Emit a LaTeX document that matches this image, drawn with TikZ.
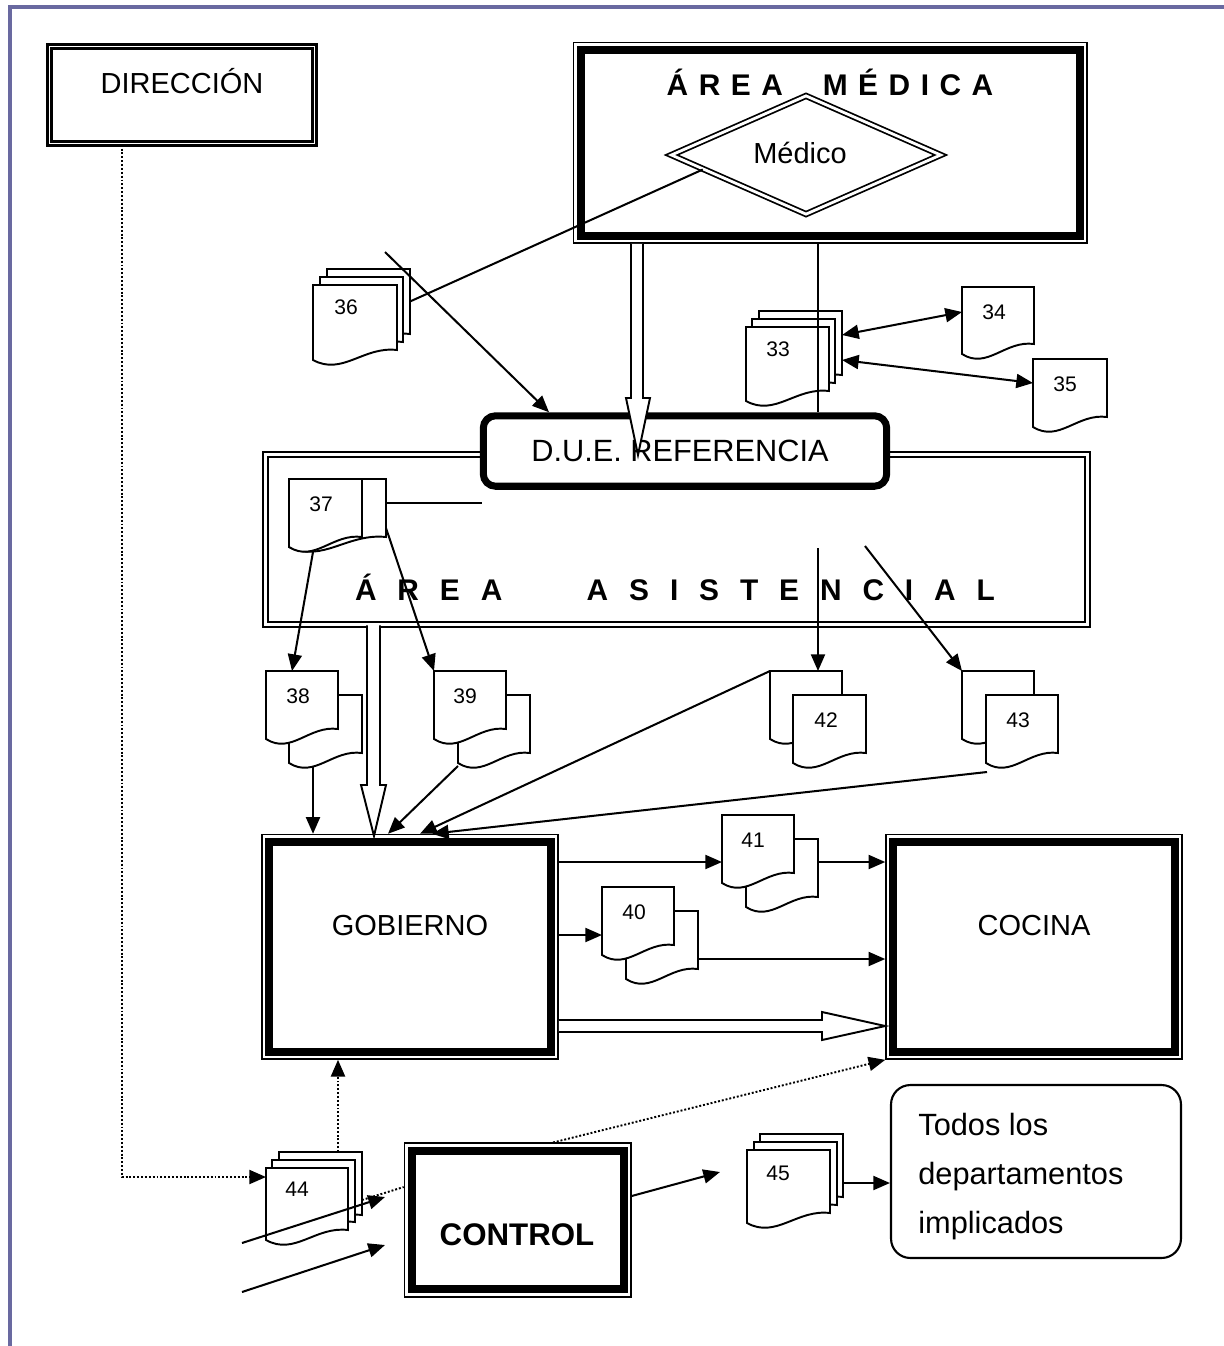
\documentclass[tikz,border=0pt]{standalone}
\usepackage{fontspec}
\setmainfont{Liberation Sans}
\usetikzlibrary{arrows.meta,shapes.geometric,calc,fit}
\definecolor{framecol}{RGB}{105,105,160}

% one document page with a wavy lower edge: name, x0, y0, x1, y1
\newcommand\docpage[5]{%
  \path (#2,#3) coordinate (#1-nw) (#4,#5) coordinate (#1-se);
  \node[fit=(#1-nw)(#1-se), inner sep=0pt, outer sep=0pt] (#1) {};
  \draw[docline] (#1.north west) -- (#1.north east) -- (#1.south east)
    .. controls ($(#1.south west)!0.6!(#1.south east)+(0,-4)$)
    and ($(#1.south west)!0.35!(#1.south east)+(0,26)$)
    .. ($(#1.south west)+(0,10)$) -- cycle;
}
% letter spacing for the area titles
\newcommand\gp{\hspace{6pt}}
\newcommand\gq{\hspace{11.9pt}}

\begin{document}
\begin{tikzpicture}[x=0.02cm, y=-0.02cm,
  conn/.style={line width=1.15pt},
  arr/.style={conn, -{Triangle[length=9.5pt,width=8pt]}},
  biarr/.style={conn, {Triangle[length=9.5pt,width=8pt]}-{Triangle[length=9.5pt,width=8pt]}},
  dots/.style={line width=1.1pt, dash pattern=on 1.1pt off 1.1pt},
  dotarr/.style={dots, -{Triangle[length=9.5pt,width=8pt]}},
  hollow/.style={draw, fill=white, line width=1.1pt, line join=miter},
  docline/.style={draw, fill=white, line width=1.1pt},
  num/.style={inner sep=0pt, font=\fontsize{12}{14}\selectfont},
  lab/.style={inner sep=0pt, font=\fontsize{16.5}{20}\selectfont},
  biglab/.style={inner sep=0pt, font=\fontsize{17.5}{21}\selectfont},
  ttl/.style={inner sep=0pt, font=\fontsize{17}{20}\bfseries\selectfont},
  boldlab/.style={inner sep=0pt, font=\fontsize{17.8}{21}\bfseries\selectfont},
  dblbox/.style={draw, double=white, line width=1.4pt, double distance=1.1pt, fill=white, inner sep=0pt},
  thinpair/.style={draw, double=white, line width=1.1pt, double distance=1.7pt, fill=white, inner sep=0pt},
  heavybox/.style={draw, line width=0.9pt, fill=white, inner sep=0pt,
    path picture={\draw[line width=4.6pt]
      ([shift={(4.2pt,-4.2pt)}]path picture bounding box.north west) rectangle
      ([shift={(-4.2pt,4.2pt)}]path picture bounding box.south east);}},
  roundbox/.style={draw, line width=4pt, rounded corners=7pt, fill=white, inner sep=0pt},
  softbox/.style={draw, line width=1.2pt, rounded corners=11pt, fill=white, inner sep=0pt}
]
\useasboundingbox (0,0) rectangle (1224,1346);

% page frame
\draw[line width=2.3pt, framecol] (10,1346) -- (10,7) -- (1224,7);

% DIRECCIÓN
\node[dblbox, minimum width=5.3cm, minimum height=1.94cm] (dir) at (182,95) {};
\node[lab, anchor=base] (tdir) at (182,93) {DIRECCIÓN};

% ÁREA MÉDICA with the Médico diamond
\node[heavybox, minimum width=10.27cm, minimum height=4.01cm] (amed) at (830.4,142.8) {};
\node[diamond, draw, double=white, line width=1pt, double distance=1.6pt, fill=white,
  inner sep=0pt, minimum width=5.4cm, minimum height=2.38cm] (medico) at (806,155) {};
\node[ttl, anchor=base] (tamed) at (830,95)
  {Á\gp R\gp E\gp A\hspace{22.7pt}M\gp É\gp D\gp I\gp C\gp A};
\node[lab, anchor=base] (tmed) at (800,163) {Médico};

% ÁREA ASISTENCIAL and D.U.E. REFERENCIA
\node[thinpair, minimum width=16.44cm, minimum height=3.4cm] (aasis) at (676.5,539.5) {};
\node[ttl, anchor=base] (tasis) at (675,600)
  {Á\gq R\gq E\gq A\hspace{48pt}A\gq S\gq I\gq S\gq T\gq E\gq N\gq C\gq I\gq A\gq L};
\node[roundbox, minimum width=8.07cm, minimum height=1.41cm] (due) at (685,451) {};
\node[biglab, anchor=base] (tdue) at (680,461) {D.U.E. REFERENCIA};

% GOBIERNO, COCINA, CONTROL
\node[heavybox, minimum width=5.92cm, minimum height=4.49cm] (gob) at (410,946.8) {};
\node[lab] (tgob) at (410,926) {GOBIERNO};
\node[heavybox, minimum width=5.92cm, minimum height=4.49cm] (coc) at (1034,946.8) {};
\node[lab] (tcoc) at (1034,926) {COCINA};
\node[heavybox, minimum width=4.53cm, minimum height=3.07cm] (ctrl) at (517.7,1220) {};
\node[boldlab] (tctrl) at (517,1235) {CONTROL};

% recipients
\node[softbox, minimum width=5.8cm, minimum height=3.46cm] (todos) at (1036,1171.5) {};
\node[biglab, anchor=base west] (todos1) at (918,1135) {Todos los};
\node[biglab, anchor=base west] (todos2) at (918,1184) {departamentos};
\node[biglab, anchor=base west] (todos3) at (918,1233) {implicados};

% documents
\docpage{d36c}{327}{269}{410}{334}
\docpage{d36b}{320}{277}{403}{342}
\docpage{d36a}{313}{285}{397}{350}
\node[num] (n36) at (346,307) {36};

\docpage{d33c}{759}{311}{842}{375}
\docpage{d33b}{752}{319}{835}{383}
\docpage{d33a}{746}{327}{829}{391}
\node[num] (n33) at (778,349) {33};

\docpage{d34}{962}{287}{1034}{344}
\node[num] (n34) at (994,312) {34};
\docpage{d35}{1033}{359}{1107}{417}
\node[num] (n35) at (1065,384) {35};

\docpage{d37b}{289}{479}{386}{537}
\docpage{d37a}{289}{479}{362}{537}
\node[num] (n37) at (321,504) {37};

\docpage{d38b}{289}{695}{362}{753}
\docpage{d38a}{266}{671}{338}{729}
\node[num] (n38) at (298,696) {38};
\docpage{d39b}{458}{695}{530}{753}
\docpage{d39a}{434}{671}{506}{729}
\node[num] (n39) at (465,696) {39};

\docpage{d42b}{770}{671}{842}{729}
\docpage{d42a}{793}{695}{866}{753}
\node[num] (n42) at (826,720) {42};
\docpage{d43b}{962}{671}{1034}{729}
\docpage{d43a}{986}{695}{1058}{753}
\node[num] (n43) at (1018,720) {43};

\docpage{d41b}{746}{839}{818}{897}
\docpage{d41a}{722}{815}{794}{873}
\node[num] (n41) at (753,840) {41};
\docpage{d40b}{626}{911}{698}{969}
\docpage{d40a}{602}{887}{674}{945}
\node[num] (n40) at (634,912) {40};

\docpage{d44c}{279}{1152}{362}{1215}
\docpage{d44b}{272}{1160}{355}{1222}
\docpage{d44a}{266}{1168}{348}{1230}
\node[num] (n44) at (297,1189) {44};

\docpage{d45c}{760}{1134}{843}{1197}
\docpage{d45b}{754}{1142}{837}{1205}
\docpage{d45a}{747}{1150}{830}{1213}
\node[num] (n45) at (778,1173) {45};

% free ends of connectors
\coordinate (s36) at (385,252);
\coordinate (e37) at (482,503);
\coordinate (s42) at (818,548);
\coordinate (s43) at (865,546);
\coordinate (s1) at (242,1243);
\coordinate (t1) at (385,1197);
\coordinate (s2) at (242,1292);
\coordinate (t2) at (385,1245);
\coordinate (t45) at (720,1172);

% connectors, upper part
\draw[dotarr] (122,0 |- dir.south) -- (122,1177) -- (d44a.west |- 0,1177);
\draw[conn] (medico.188) -- (d36c.east);
\draw[arr] (s36) -- (549,0 |- due.north);
\draw[conn] (818,0 |- amed.south) -- (818,0 |- due.north);
\draw[biarr] (d33c.east |- 0,335) -- (d34.west |- 0,312);
\draw[biarr] (d33c.east |- 0,360) -- (d35.west |- 0,383);

% connectors, middle part
\draw[conn] (d37b.east |- 0,503) -- (e37);
\draw[arr] ([shift={(24,15)}]d37a.south west) -- (292,0 |- d38a.north);
\draw[arr] (d37b.east |- 0,528) -- (d39a.north west);
\draw[arr] ([shift={(24,14)}]d38b.south west) -- (313,0 |- gob.north);
\draw[arr] ([shift={(0,13)}]d39b.south west) -- (388,0 |- gob.north);
\draw[arr] (s42) -- (s42 |- d42b.north);
\draw[arr] (s43) -- (d43b.north west);
\draw[arr] (d42b.north west) -- (420,0 |- gob.north);
\draw[arr] ([shift={(1,19)}]d43a.south west) -- (432,0 |- gob.north);

% connectors, GOBIERNO to COCINA
\draw[arr] (gob.east |- 0,862) -- (d41a.west |- 0,862);
\draw[arr] (d41b.east |- 0,862) -- (coc.west |- 0,862);
\draw[arr] (gob.east |- 0,935) -- (d40a.west |- 0,935);
\draw[arr] (d40b.east |- 0,959) -- (coc.west |- 0,959);

% connectors, lower part
\draw[dotarr] (338,0 |- d44c.north) -- (338,0 |- gob.south);
\draw[dotarr] (553,0 |- ctrl.north) -- (coc.south west);
\draw[arr] (s1) -- (t1);
\draw[arr] (s2) -- (t2);
\draw[dots] (d44c.east |- 0,1200) -- (ctrl.west |- 0,1187);
\draw[arr] (ctrl.east |- 0,1196) -- (t45);
\draw[arr] (d45c.east |- 0,1183) -- (todos.west |- 0,1183);

% hollow flow arrows
\draw[hollow] (631,0 |- amed.south) -- (631,398) -- (626,398) -- (638,455)
  -- (650,398) -- (643,398) -- (643,0 |- amed.south);
\draw[hollow] (367,0 |- aasis.south) -- (367,785) -- (361,785) -- (374,836)
  -- (386,785) -- (380,785) -- (380,0 |- aasis.south);
\draw[hollow] (gob.east |- 0,1020) -- (822,1020) -- (822,1012) -- (coc.west |- 0,1026)
  -- (822,1040) -- (822,1032) -- (gob.east |- 0,1032);
\end{tikzpicture}
\end{document}
